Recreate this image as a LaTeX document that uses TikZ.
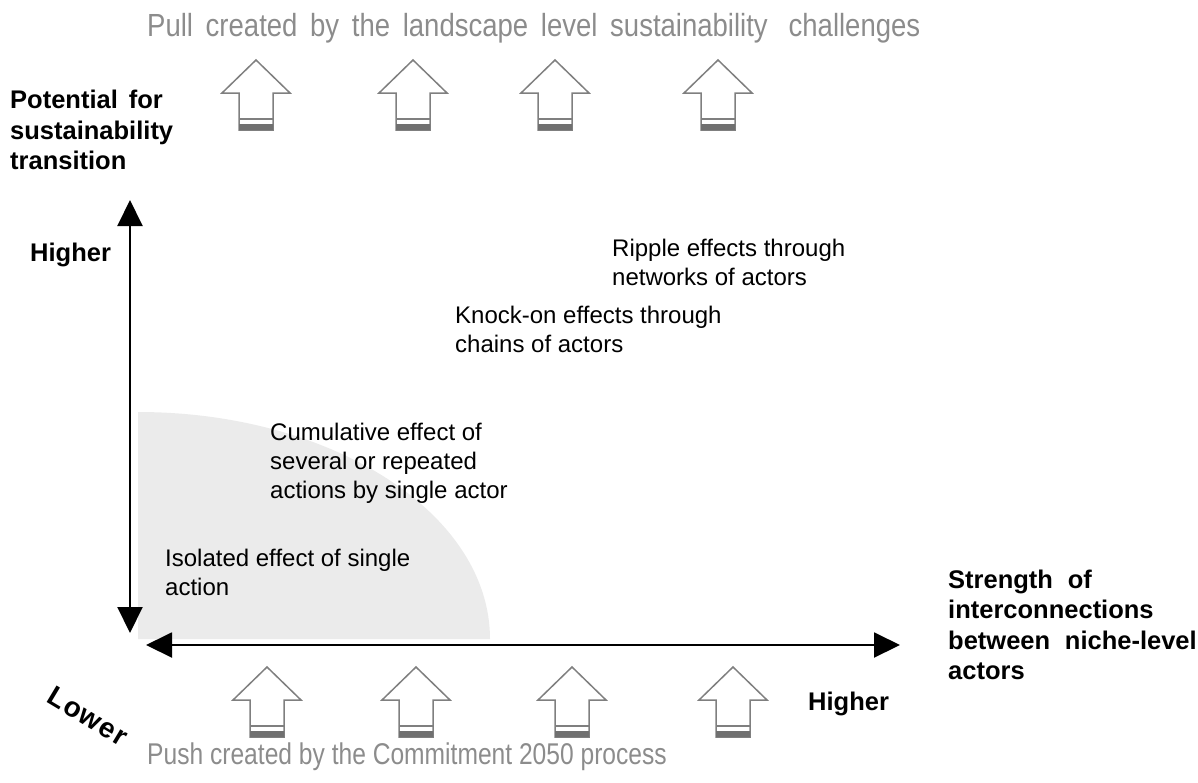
\documentclass[tikz,border=0pt]{standalone}
\usepackage{fontspec}
\setmainfont{Liberation Sans}
\usetikzlibrary{arrows.meta}

\definecolor{titlegray}{HTML}{8C8C8C}
\definecolor{outlinegray}{HTML}{7F7F7F}
\definecolor{bandgray}{HTML}{707070}
\definecolor{zonegray}{HTML}{EBEBEB}

\newcommand{\bodyfont}{\fontsize{24}{29}\selectfont}
\newcommand{\labelfont}{\fontsize{25.5}{30.5}\selectfont\bfseries}
\newcommand{\pulltitlefont}{\fontsize{32}{36}\selectfont}
\newcommand{\pushtitlefont}{\fontsize{30}{34}\selectfont}

\tikzset{
  axis/.style={line width=2pt, {Triangle[width=25pt,length=26pt]}-{Triangle[width=25pt,length=26pt]}},
  bodytext/.style={inner sep=0pt, anchor=west, align=left, font=\bodyfont},
  axislabel/.style={inner sep=0pt, anchor=west, align=left, font=\labelfont},
  titletext/.style={inner sep=0pt, anchor=west, text=titlegray},
  pics/blockarrow/.style={code={
    \draw[outlinegray, line width=1.5pt, line join=miter]
      (0,0) -- (34,33) -- (17,33) -- (17,70) -- (-17,70) -- (-17,33) -- (-34,33) -- cycle;
    \draw[outlinegray, line width=1.5pt] (-17,59) -- (17,59);
    \fill[bandgray] (-17,64) rectangle (17,70);
  }}
}

\begin{document}
\begin{tikzpicture}[x=1pt, y=-1pt]
  \useasboundingbox (0,0) rectangle (1198,782);

  % shaded zone of low-connectivity effects
  \fill[zonegray] (138,639) -- (138,412)
    arc[start angle=90, end angle=0, x radius=352pt, y radius=227pt] -- cycle;

  % axes
  \coordinate (vtop) at (130,200);
  \coordinate (vbot) at (130,633);
  \coordinate (hleft) at (146,645);
  \coordinate (hright) at (900,645);
  \draw[axis] (vbot) -- (vtop);
  \draw[axis] (hleft) -- (hright);

  % pull arrows from the landscape level
  \foreach \cx in {256,413,555,718}
    \pic at (\cx,60) {blockarrow};
  % push arrows from the process
  \foreach \cx in {267,416,572,733}
    \pic at (\cx,667) {blockarrow};

  % titles
  \node[titletext, font=\pulltitlefont] (pull) at (147,28)
    {\scalebox{0.86}[1]{\makebox[899pt][s]{Pull created by the landscape level sustainability\hspace{0.3em} challenges}}};
  \node[titletext, font=\pushtitlefont] (push) at (147,757)
    {\scalebox{0.82}[1]{Push created by the Commitment 2050 process}};

  % axis labels
  \node[axislabel] (potential) at (10,130)
    {Potential\hspace{0.15em} for\\sustainability\\transition};
  \node[axislabel] (yhigher) at (30,255) {Higher};
  \node[axislabel] (xhigher) at (808,704) {Higher};
  \node[axislabel] (strength) at (948,625)
    {Strength\hspace{0.3em} of\\interconnections\\between\hspace{0.3em} niche-level\\actors};
  \node[axislabel, anchor=center, rotate=-31, font=\fontsize{28}{32}\selectfont\bfseries] (lower) at (88,716)
    {L\hspace{1.5pt}o\hspace{1pt}w\hspace{1.5pt}e\hspace{1.5pt}r};

  % effect levels
  \node[bodytext] (isolated) at (165,572) {Isolated effect of single\\action};
  \node[bodytext] (cumulative) at (270,463)
    {Cumulative effect of\\several or repeated\\actions by single actor};
  \node[bodytext] (knockon) at (455,329) {Knock-on effects through\\chains of actors};
  \node[bodytext] (ripple) at (612,262) {Ripple effects through\\networks of actors};
\end{tikzpicture}
\end{document}
